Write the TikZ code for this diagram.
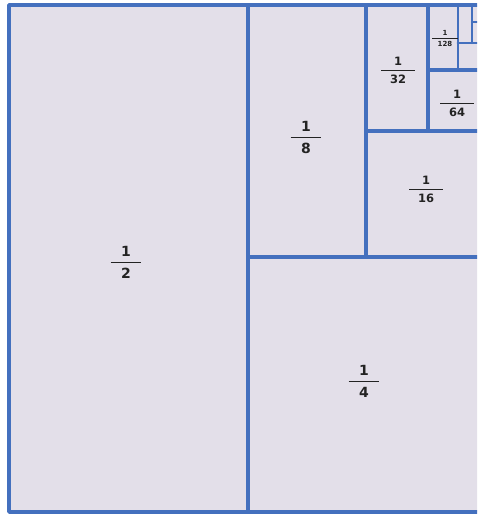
\documentclass[tikz,border=0pt]{standalone}
\usepackage{fontspec}
\setmainfont{DejaVu Sans}
\usepackage{xcolor,array}
\definecolor{cellfill}{RGB}{227,223,233}
\definecolor{cellline}{RGB}{68,112,190}
\definecolor{labeltext}{RGB}{35,35,35}
\setlength{\arrayrulewidth}{1.3pt}
\newcommand{\fracbox}[2]{\begin{tabular}{@{\hspace{0.75em}}c@{\hspace{0.75em}}}#1\\\hline\rule{0pt}{1.1em}#2\end{tabular}}

\begin{document}
\begin{tikzpicture}[x=1pt, y=-1pt, line join=round, line cap=round]
\useasboundingbox (0,0) rectangle (477,514);
\clip (0,0) rectangle (477,514);
\coordinate (A) at (9,5);
\coordinate (B) at (487,512);
\coordinate (V1a) at (248,5);
\coordinate (V1b) at (248,512);
\coordinate (H1a) at (248,257);
\coordinate (H1b) at (487,257);
\coordinate (V2a) at (366,5);
\coordinate (V2b) at (366,257);
\coordinate (H2a) at (366,131);
\coordinate (H2b) at (487,131);
\coordinate (V3a) at (428,5);
\coordinate (V3b) at (428,131);
\coordinate (H3a) at (428,70);
\coordinate (H3b) at (487,70);
\coordinate (V4a) at (458,5);
\coordinate (V4b) at (458,70);
\coordinate (H4a) at (458,43);
\coordinate (H4b) at (487,43);
\coordinate (V5a) at (472,5);
\coordinate (V5b) at (472,43);
\coordinate (H5a) at (472,22);
\coordinate (H5b) at (487,22);
\fill[cellfill] (A) rectangle (B);
\draw[cellline, line width=3.4pt] (A) rectangle (B);
\draw[cellline, line width=3.1pt] (V1a) -- (V1b);
\draw[cellline, line width=3.1pt] (H1a) -- (H1b);
\draw[cellline, line width=3.1pt] (V2a) -- (V2b);
\draw[cellline, line width=3.1pt] (H2a) -- (H2b);
\draw[cellline, line width=3.1pt] (V3a) -- (V3b);
\draw[cellline, line width=3.1pt] (H3a) -- (H3b);
\draw[cellline, line width=2.8pt] (V4a) -- (V4b);
\draw[cellline, line width=2.8pt] (H4a) -- (H4b);
\draw[cellline, line width=2.4pt] (V5a) -- (V5b);
\draw[cellline, line width=2.4pt] (H5a) -- (H5b);
\node[text=labeltext, font=\fontsize{14}{16.8}\selectfont\bfseries, inner sep=0pt] (half) at (126,264) {\fracbox{1}{2}};
\node[text=labeltext, font=\fontsize{14}{16.8}\selectfont\bfseries, inner sep=0pt] (quarter) at (364,383) {\fracbox{1}{4}};
\node[text=labeltext, font=\fontsize{14}{16.8}\selectfont\bfseries, inner sep=0pt] (eighth) at (306,139) {\fracbox{1}{8}};
\node[text=labeltext, font=\fontsize{11.5}{13.8}\selectfont\bfseries, inner sep=0pt] (sixteenth) at (426,191) {\fracbox{1}{16}};
\node[text=labeltext, font=\fontsize{11.5}{13.8}\selectfont\bfseries, inner sep=0pt] (thirtysecond) at (398,72) {\fracbox{1}{32}};
\node[text=labeltext, font=\fontsize{11.5}{13.8}\selectfont\bfseries, inner sep=0pt] (sixtyfourth) at (457,105) {\fracbox{1}{64}};
\node[text=labeltext, font=\fontsize{7}{8.4}\selectfont\bfseries\setlength{\arrayrulewidth}{0.8pt}, inner sep=0pt] (onetwentyeighth) at (445,39) {\fracbox{1}{128}};
\end{tikzpicture}
\end{document}
